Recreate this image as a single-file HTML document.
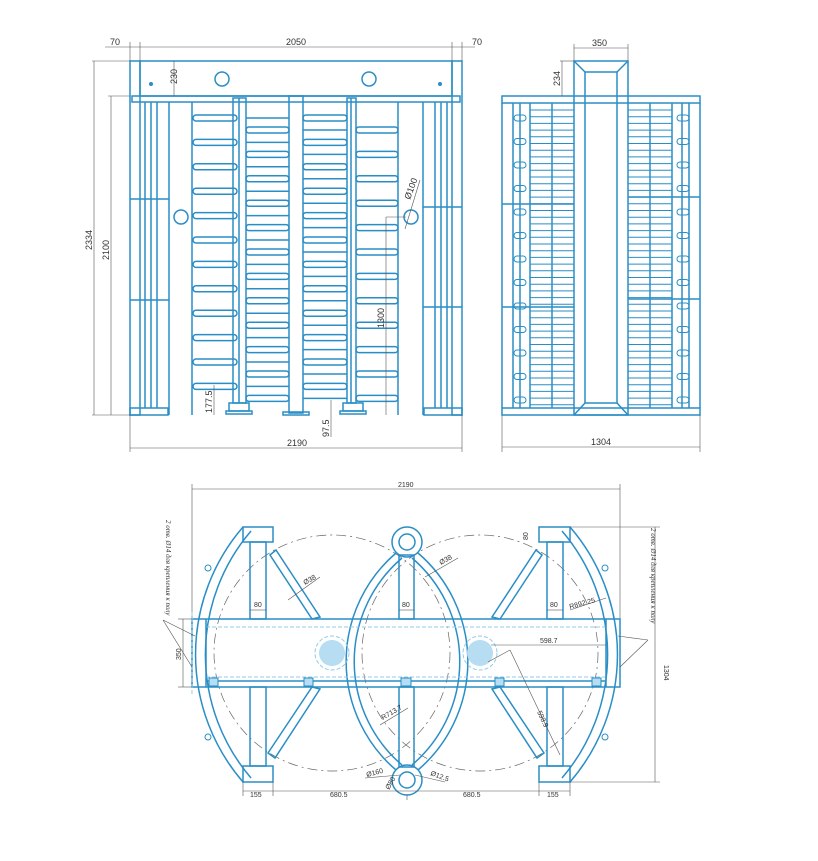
<!DOCTYPE html>
<html><head><meta charset="utf-8"><style>
html,body{margin:0;padding:0;background:#fff;}
svg{display:block;font-family:"Liberation Sans",sans-serif;}
.s{fill:none;stroke:#2a8ec6;stroke-width:1.5}
.t{fill:none;stroke:#2a8ec6;stroke-width:1}
.d{fill:none;stroke:#555;stroke-width:0.6}
.dash{fill:none;stroke:#666;stroke-width:0.7;stroke-dasharray:10 4 2 4}
.ld{fill:none;stroke:#8fcbea;stroke-width:1;stroke-dasharray:4 2}
text{fill:#333;font-size:9px}
.sm{font-size:7px}
</style></head><body>
<svg id="g" width="818" height="861" viewBox="0 0 818 861" xmlns="http://www.w3.org/2000/svg">
<!-- FRONT VIEW -->
<g id="front">
<rect class="s" x="130" y="61" width="10" height="354"/>
<rect class="s" x="452" y="61" width="10" height="354"/>
<rect class="s" x="140" y="61" width="312" height="35"/>
<rect class="s" x="132" y="96" width="328" height="6"/>
<circle class="s" cx="222" cy="79" r="7"/><circle class="s" cx="369" cy="79" r="7"/>
<circle cx="151" cy="84" r="2" fill="#2a8ec6"/><circle cx="440" cy="84" r="2" fill="#2a8ec6"/>
<line class="s" x1="145" y1="102" x2="145" y2="408"/><line class="s" x1="151" y1="102" x2="151" y2="408"/><line class="s" x1="157" y1="102" x2="157" y2="408"/><line class="s" x1="169" y1="102" x2="169" y2="415"/>
<line class="s" x1="423" y1="102" x2="423" y2="415"/><line class="s" x1="435" y1="102" x2="435" y2="408"/><line class="s" x1="441" y1="102" x2="441" y2="408"/><line class="s" x1="447" y1="102" x2="447" y2="408"/>
<line class="s" x1="130" y1="199" x2="169" y2="199"/><line class="s" x1="130" y1="300" x2="169" y2="300"/>
<line class="s" x1="423" y1="207" x2="462" y2="207"/><line class="s" x1="423" y1="307" x2="462" y2="307"/>
<rect class="s" x="130" y="408" width="38" height="7"/><rect class="s" x="424" y="408" width="38" height="7"/>
<line class="s" x1="192" y1="102" x2="192" y2="415"/><line class="s" x1="398" y1="102" x2="398" y2="415"/>
<circle class="s" cx="181" cy="217" r="7"/><circle class="s" cx="411" cy="217" r="7"/>
<rect class="s" x="233" y="98" width="13" height="305"/><line class="s" x1="239" y1="98" x2="239" y2="403"/>
<rect class="s" x="347" y="98" width="9" height="305"/><line class="s" x1="351" y1="98" x2="351" y2="403"/>
<rect class="s" x="289" y="96" width="14" height="317"/>
<rect class="s" x="283" y="412" width="26" height="3"/>
<rect class="s" x="229" y="403" width="20" height="8"/><rect class="s" x="226" y="411" width="26" height="3"/>
<rect class="s" x="343" y="403" width="20" height="8"/><rect class="s" x="340" y="411" width="26" height="3"/>
<g id="rungs"></g>
</g>
<!-- front dims -->
<line class="d" x1="105" y1="47" x2="475" y2="47"/>
<line class="d" x1="130" y1="42" x2="130" y2="61"/><line class="d" x1="140" y1="42" x2="140" y2="61"/><line class="d" x1="452" y1="42" x2="452" y2="61"/><line class="d" x1="462" y1="42" x2="462" y2="61"/>
<text x="110" y="45">70</text><text x="286" y="45">2050</text><text x="472" y="45">70</text>
<line class="d" x1="174" y1="61" x2="174" y2="96"/><text transform="translate(177,84) rotate(-90)">230</text>
<line class="d" x1="92" y1="61" x2="130" y2="61"/><line class="d" x1="94" y1="61" x2="94" y2="415"/><text transform="translate(92,250) rotate(-90)">2334</text>
<line class="d" x1="108" y1="96" x2="130" y2="96"/><line class="d" x1="111" y1="96" x2="111" y2="415"/><text transform="translate(109,260) rotate(-90)">2100</text>
<line class="d" x1="92" y1="415" x2="130" y2="415"/>
<line class="d" x1="130" y1="415" x2="130" y2="452"/><line class="d" x1="462" y1="415" x2="462" y2="452"/>
<line class="d" x1="130" y1="448" x2="462" y2="448"/><text x="287" y="446">2190</text>
<line class="d" x1="214" y1="385" x2="214" y2="415"/><text transform="translate(212,413) rotate(-90)">177.5</text>
<line class="d" x1="331" y1="400" x2="331" y2="437"/><text transform="translate(329,437) rotate(-90)">97.5</text>
<line class="d" x1="386" y1="217" x2="386" y2="415"/><line class="d" x1="386" y1="217" x2="406" y2="217"/><text transform="translate(384,328) rotate(-90)">1300</text>
<line class="d" x1="405" y1="229" x2="420" y2="180"/><text transform="translate(410,200) rotate(-70)">Ø100</text>

<!-- SIDE VIEW -->
<rect class="s" x="502" y="96" width="198" height="7"/>
<rect class="s" x="502" y="408" width="198" height="7"/>
<line class="s" x1="502" y1="103" x2="502" y2="408"/><line class="s" x1="700" y1="103" x2="700" y2="408"/>
<rect class="s" x="574" y="61" width="54" height="354"/>
<rect class="s" x="585" y="72" width="32" height="331"/>
<line class="s" x1="574" y1="61" x2="585" y2="72"/><line class="s" x1="628" y1="61" x2="617" y2="72"/><line class="s" x1="574" y1="415" x2="585" y2="403"/><line class="s" x1="628" y1="415" x2="617" y2="403"/>
<line class="s" x1="513" y1="103" x2="513" y2="408"/><line class="s" x1="520" y1="103" x2="520" y2="408"/><line class="s" x1="530" y1="103" x2="530" y2="408"/><line class="s" x1="552" y1="103" x2="552" y2="408"/>
<line class="s" x1="689" y1="103" x2="689" y2="408"/><line class="s" x1="682" y1="103" x2="682" y2="408"/><line class="s" x1="672" y1="103" x2="672" y2="408"/><line class="s" x1="650" y1="103" x2="650" y2="408"/>
<line class="s" x1="502" y1="204" x2="574" y2="204"/><line class="s" x1="502" y1="307" x2="574" y2="307"/>
<line class="s" x1="628" y1="197" x2="700" y2="197"/><line class="s" x1="628" y1="299" x2="700" y2="299"/>
<g id="slats"></g>
<line class="d" x1="574" y1="44" x2="574" y2="61"/><line class="d" x1="628" y1="44" x2="628" y2="61"/><line class="d" x1="574" y1="48" x2="628" y2="48"/><text x="592" y="46">350</text>
<line class="d" x1="560" y1="61" x2="574" y2="61"/><line class="d" x1="562" y1="61" x2="562" y2="96"/><text transform="translate(560,86) rotate(-90)">234</text>
<line class="d" x1="502" y1="415" x2="502" y2="452"/><line class="d" x1="700" y1="415" x2="700" y2="452"/><line class="d" x1="502" y1="447" x2="700" y2="447"/><text x="591" y="445">1304</text>

<!-- PLAN VIEW -->
<line class="d" x1="192" y1="484" x2="192" y2="620"/><line class="d" x1="620" y1="484" x2="620" y2="620"/>
<line class="d" x1="192" y1="489" x2="620" y2="489"/><text x="398" y="487" class="sm">2190</text>
<circle class="dash" cx="332" cy="653" r="118"/><circle class="dash" cx="480" cy="653" r="118"/>
<!-- outer arcs -->
<path class="s" d="M243,527 A195,195 0 0 0 243,782"/><path class="s" d="M251,531 A190,190 0 0 0 251,778"/>
<path class="s" d="M570,527 A195,195 0 0 1 570,782"/><path class="s" d="M562,531 A190,190 0 0 1 562,778"/>
<!-- middle lens -->
<path class="s" d="M396,553 A143,143 0 0 0 396,770"/><path class="s" d="M402,558 A136,136 0 0 0 402,765"/>
<path class="s" d="M418,553 A143,143 0 0 1 418,770"/><path class="s" d="M412,558 A136,136 0 0 1 412,765"/>
<!-- posts -->
<rect class="s" x="250" y="542" width="16" height="77"/><rect class="s" x="250" y="687" width="16" height="79"/>
<rect class="s" x="399" y="555" width="15" height="64"/><rect class="s" x="399" y="687" width="15" height="80"/>
<rect class="s" x="547" y="542" width="16" height="77"/><rect class="s" x="547" y="687" width="16" height="79"/>
<rect class="s" x="243" y="527" width="30" height="15" fill="#fff"/><rect class="s" x="243" y="766" width="30" height="16" fill="#fff"/>
<rect class="s" x="539" y="527" width="31" height="15" fill="#fff"/><rect class="s" x="539" y="766" width="31" height="16" fill="#fff"/>
<circle class="s" cx="407" cy="542" r="15" fill="#fff"/><circle class="s" cx="407" cy="542" r="8"/>
<circle class="s" cx="407" cy="780" r="15" fill="#fff"/><circle class="s" cx="407" cy="780" r="8"/>
<!-- diagonals -->
<path class="s" d="M270,555 L276,550 L320,617 L312,619 Z"/>
<path class="s" d="M268,753 L275,758 L320,689 L312,687 Z"/>
<path class="s" d="M542,555 L536,550 L492,617 L500,619 Z"/>
<path class="s" d="M544,753 L537,758 L492,689 L500,687 Z"/>
<!-- central bar -->
<rect class="s" x="192" y="619" width="428" height="68" fill="rgba(255,255,255,0.85)"/>
<rect class="ld" x="206" y="627" width="400" height="50"/>
<line class="s" x1="206" y1="619" x2="206" y2="687"/><line class="s" x1="606" y1="619" x2="606" y2="687"/>
<line class="s" x1="206" y1="681" x2="606" y2="681"/>
<line class="ld" x1="192" y1="612" x2="192" y2="695"/>
<circle cx="332" cy="653" r="13" fill="#b6ddf2"/><circle cx="480" cy="653" r="13" fill="#b6ddf2"/>
<circle class="ld" cx="332" cy="653" r="17"/><circle class="ld" cx="480" cy="653" r="17"/>
<g fill="#b6ddf2" stroke="#2a8ec6" stroke-width="1"><rect x="209" y="678" width="9" height="8"/><rect x="304" y="678" width="9" height="8"/><rect x="401" y="678" width="10" height="8"/><rect x="495" y="678" width="9" height="8"/><rect x="592" y="678" width="9" height="8"/></g>
<!-- lugs -->
<g class="t"><circle cx="208" cy="568" r="3"/><circle cx="605" cy="568" r="3"/><circle cx="208" cy="737" r="3"/><circle cx="605" cy="737" r="3"/></g>
<!-- plan dims -->
<line class="d" x1="243" y1="782" x2="243" y2="796"/><line class="d" x1="273" y1="782" x2="273" y2="796"/><line class="d" x1="407" y1="795" x2="407" y2="800"/><line class="d" x1="539" y1="782" x2="539" y2="796"/><line class="d" x1="570" y1="782" x2="570" y2="796"/>
<line class="d" x1="243" y1="791" x2="570" y2="791"/>
<text x="250" y="797" class="sm">155</text><text x="330" y="797" class="sm">680.5</text><text x="463" y="797" class="sm">680.5</text><text x="547" y="797" class="sm">155</text>
<line class="d" x1="178" y1="619" x2="192" y2="619"/><line class="d" x1="178" y1="687" x2="192" y2="687"/><line class="d" x1="183" y1="619" x2="183" y2="687"/>
<text class="sm" transform="translate(181,660) rotate(-90)">350</text>
<line class="d" x1="570" y1="527" x2="660" y2="527"/><line class="d" x1="570" y1="782" x2="660" y2="782"/><line class="d" x1="655" y1="527" x2="655" y2="782"/>
<text class="sm" transform="translate(664,665) rotate(90)">1304</text>
<text class="sm" font-style="italic" transform="translate(166,520) rotate(90)" style="font-family:'Liberation Serif','DejaVu Serif',serif">2 отв. Ø14 для крепления к полу</text>
<text class="sm" font-style="italic" transform="translate(651,528) rotate(90)" style="font-family:'Liberation Serif','DejaVu Serif',serif">2 отв. Ø14 для крепления к полу</text>
<path class="d" d="M163,620 L195,636 M163,620 L192,667"/><path class="d" d="M648,640 L618,636 M648,640 L620,667"/>
<line class="d" x1="288" y1="600" x2="320" y2="577"/><text class="sm" transform="translate(305,585) rotate(-30)">Ø38</text>
<line class="d" x1="425" y1="577" x2="458" y2="558"/><text class="sm" transform="translate(441,565) rotate(-30)">Ø38</text>
<line class="d" x1="250" y1="610" x2="266" y2="610"/><text x="254" y="607" class="sm">80</text>
<line class="d" x1="399" y1="610" x2="414" y2="610"/><text x="402" y="607" class="sm">80</text>
<line class="d" x1="547" y1="610" x2="563" y2="610"/><text x="550" y="607" class="sm">80</text>
<text class="sm" transform="translate(528,540) rotate(-90)">80</text>
<line class="d" x1="570" y1="610" x2="606" y2="598"/><text class="sm" transform="translate(570,609) rotate(-15)">R892.25</text>
<line class="d" x1="491" y1="645" x2="606" y2="645"/><text x="540" y="643" class="sm">598.7</text>
<line class="d" x1="488" y1="662" x2="510" y2="650"/><line class="d" x1="510" y1="650" x2="560" y2="755"/><text class="sm" transform="translate(537,712) rotate(65)">598.9</text>
<line class="d" x1="380" y1="725" x2="408" y2="708"/><text class="sm" transform="translate(383,720) rotate(-30)">R713.7</text>
<line class="d" x1="365" y1="778" x2="400" y2="775"/><text class="sm" transform="translate(367,777) rotate(-15)">Ø160</text>
<text class="sm" transform="translate(389,790) rotate(-60)">Ø80</text>
<line class="d" x1="415" y1="775" x2="445" y2="782"/><text class="sm" transform="translate(430,775) rotate(20)">Ø12.5</text>
</svg>
<script>
var NS="http://www.w3.org/2000/svg";
function el(p,t,a){var e=document.createElementNS(NS,t);for(var k in a)e.setAttribute(k,a[k]);p.appendChild(e);return e;}
var r=document.getElementById("rungs");
for(var k=0;k<12;k++){
 var y=118+24.4*k;
 el(r,"rect",{"class":"s",x:193,y:y-3,width:44,height:6,rx:3});
 el(r,"rect",{"class":"s",x:356,y:y+9,width:42,height:6,rx:3});
 el(r,"rect",{"class":"s",x:303,y:y-3,width:44,height:6,rx:3});
 el(r,"rect",{"class":"s",x:246,y:y+9,width:43,height:6,rx:3});
 el(r,"line",{"class":"s",x1:246,y1:y,x2:289,y2:y});
 el(r,"line",{"class":"s",x1:303,y1:y+12,x2:347,y2:y+12});
}
var s=document.getElementById("slats");
for(var y=110;y<405;y+=6.7){
 el(s,"line",{"class":"t",x1:530,y1:y,x2:574,y2:y});
 el(s,"line",{"class":"t",x1:628,y1:y,x2:672,y2:y});
}
for(var k=0;k<13;k++){var y=118+23.5*k;
 el(s,"rect",{"class":"t",x:514,y:y-3,width:12,height:6,rx:3});
 el(s,"rect",{"class":"t",x:677,y:y-3,width:12,height:6,rx:3});
}
</script>
</body></html>
